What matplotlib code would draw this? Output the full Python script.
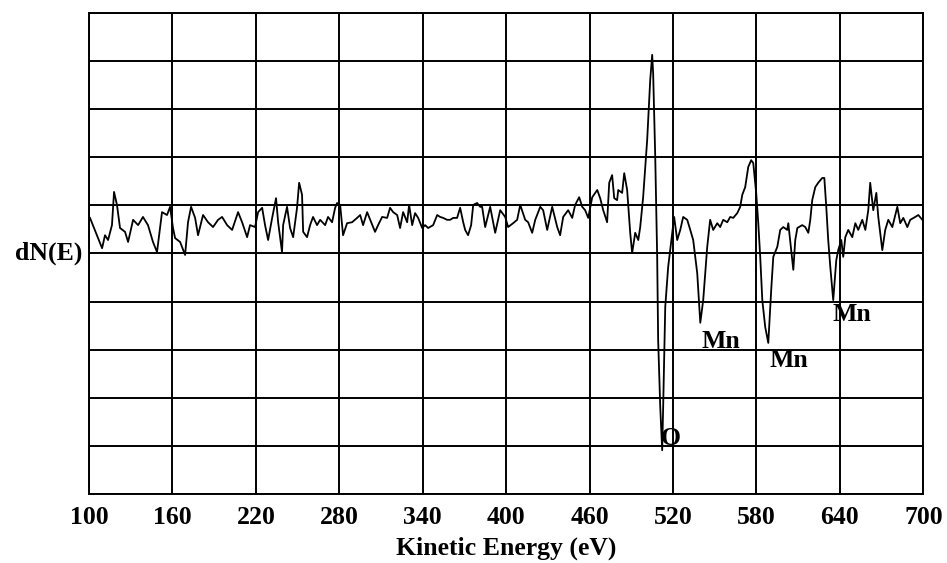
"""Auger spectrum: dN(E) vs kinetic energy, with O and Mn peaks marked."""

import matplotlib

matplotlib.use("Agg")
import matplotlib.pyplot as plt
from matplotlib.transforms import blended_transform_factory

# trace (energy in eV, intensity in grid units 0..10)
energy = [
    100.7, 109.4, 111.5, 113.7, 116.5, 118.0, 120.1, 122.3, 125.9, 128.1,
    131.7, 135.3, 138.8, 142.4, 146.0, 148.9, 152.5, 156.1, 158.3, 160.4,
    161.9, 165.5, 169.1, 171.2, 173.4, 176.3, 178.4, 182.0, 185.6, 189.2,
    192.8, 195.7, 199.3, 202.9, 207.2, 210.1, 213.7, 215.8, 219.4, 221.6,
    224.5, 226.6, 228.8, 231.7, 234.5, 236.0, 238.8,
    239.6, 242.4, 244.6, 246.8, 249.6, 251.1, 253.2, 254.0, 256.8, 259.0,
    261.1, 264.0, 266.2, 269.8, 271.9, 274.8, 277.0, 278.4, 280.6, 282.7,
    285.6, 289.2, 292.8, 295.0, 297.1, 300.0, 302.9, 305.7, 307.9, 310.8,
    314.4, 316.5, 318.7, 321.6, 323.7, 325.9, 328.8, 330.2, 332.4, 334.5,
    336.7, 339.6, 341.7, 343.9, 347.5, 350.4, 352.5, 354.7, 357.5, 359.7,
    361.9, 364.7, 366.9, 369.1, 370.5, 372.6, 374.8, 376.3, 379.1, 381.3,
    382.7, 384.9, 388.5, 392.1, 395.7, 399.3, 401.4, 405.0, 407.9, 410.1,
    413.7, 415.8, 418.7, 420.9, 424.5, 426.6, 429.5, 433.1, 436.7, 438.8,
    441.0, 444.6, 447.5, 449.6, 452.5, 454.7, 456.8, 459.0, 461.9, 465.5,
    467.6, 469.8, 472.6, 474.1, 476.2, 477.7, 479.8, 480.6, 483.4, 484.9,
    487.0, 489.2, 490.6, 492.8, 495.0, 496.4,
    498.5, 501.4, 503.6, 505.0, 505.7, 507.2, 508.6, 509.3, 510.8, 512.2,
    512.9, 514.4, 516.5, 519.4, 520.8, 523.0, 525.2, 527.3, 530.2, 532.4,
    534.5, 537.4, 539.6, 541.7, 544.6, 546.7,
    548.9, 551.8, 553.9, 556.1, 559.0, 561.1, 563.3, 566.2, 568.3, 569.8,
    571.9, 574.1, 576.2, 577.7, 579.8, 581.3, 582.7, 584.2, 586.3, 588.5,
    590.6, 592.1, 595.0, 597.1, 599.3, 602.1, 602.9, 605.0, 606.5, 607.9,
    609.4, 612.9, 615.1, 617.3, 618.7, 620.1, 622.3, 624.4, 627.3, 628.8,
    630.2, 631.6, 633.1, 635.2,
    637.4, 638.8, 641.0, 642.4, 643.9, 646.0, 648.9, 651.1, 653.2, 656.1,
    658.3, 660.4, 661.8, 664.0, 666.2, 667.6, 670.5, 672.6, 674.8, 677.7,
    679.8, 681.3, 683.4, 685.6, 688.5, 690.6, 694.2, 696.4, 699.3,
]
dn = [
    5.74, 5.11, 5.38, 5.28, 5.59, 6.28, 6.01, 5.53, 5.45, 5.24,
    5.70, 5.59, 5.76, 5.59, 5.24, 5.03, 5.86, 5.80, 5.97, 5.53,
    5.32, 5.24, 4.97, 5.65, 5.97, 5.74, 5.38, 5.80, 5.65, 5.55,
    5.70, 5.76, 5.59, 5.49, 5.86, 5.65, 5.34, 5.59, 5.55, 5.86,
    5.95, 5.59, 5.28, 5.74, 6.15, 5.65, 5.03,
    5.59, 5.97, 5.53, 5.34, 5.95, 6.47, 6.22, 5.45, 5.34, 5.59,
    5.76, 5.59, 5.70, 5.59, 5.76, 5.65, 5.95, 6.05, 6.01, 5.38,
    5.63, 5.65, 5.74, 5.80, 5.59, 5.86, 5.65, 5.45, 5.59, 5.76,
    5.74, 5.95, 5.86, 5.80, 5.53, 5.86, 5.65, 6.01, 5.59, 5.84,
    5.74, 5.53, 5.59, 5.53, 5.59, 5.80, 5.76, 5.74, 5.70, 5.70,
    5.74, 5.74, 5.95, 5.65, 5.49, 5.38, 5.59, 6.01, 6.05, 5.97,
    5.97, 5.55, 5.97, 5.43, 5.90, 5.76, 5.55, 5.63, 5.70, 6.01,
    5.70, 5.65, 5.43, 5.70, 5.97, 5.90, 5.49, 5.97, 5.55, 5.38,
    5.76, 5.90, 5.74, 6.01, 6.17, 5.97, 5.90, 5.74, 6.17, 6.32,
    6.15, 5.90, 5.65, 6.47, 6.63, 6.15, 6.11, 6.32, 6.26, 6.67,
    6.32, 5.43, 5.01, 5.43, 5.28, 5.55,
    6.17, 7.36, 8.61, 9.13, 8.75, 7.01, 4.93, 3.20, 1.81, 0.91,
    1.81, 3.89, 4.72, 5.43, 5.76, 5.28, 5.49, 5.76, 5.70, 5.49,
    5.28, 4.59, 3.56, 4.03, 5.14, 5.70,
    5.49, 5.63, 5.55, 5.70, 5.65, 5.76, 5.74, 5.84, 5.97, 6.22,
    6.38, 6.80, 6.94, 6.88, 6.26, 5.63, 4.93, 4.03, 3.47, 3.14,
    4.24, 4.93, 5.14, 5.49, 5.55, 5.49, 5.63, 5.07, 4.66, 5.28,
    5.53, 5.59, 5.55, 5.43, 5.70, 6.11, 6.38, 6.47, 6.57, 6.57,
    5.97, 5.28, 4.72, 4.03,
    4.86, 5.07, 5.28, 4.93, 5.34, 5.49, 5.34, 5.63, 5.49, 5.70,
    5.49, 5.90, 6.47, 5.90, 6.26, 5.76, 5.07, 5.49, 5.70, 5.55,
    5.80, 5.97, 5.63, 5.74, 5.55, 5.70, 5.76, 5.80, 5.70,
]

x_ticks = [100, 160, 220, 280, 340, 400, 460, 520, 580, 640, 700]

peak_labels = ["O", "Mn", "Mn", "Mn"]
peak_x = [518.0, 554.7, 603.6, 648.9]
peak_y = [1.16, 3.16, 2.77, 3.74]

FONT = "Liberation Serif"

fig = plt.figure(figsize=(9.47, 5.63), dpi=100)
ax = fig.add_axes([0.094, 0.1226, 0.881, 0.8543])

ax.plot(energy, dn, color="black", lw=1.3)

ax.set_xlim(100, 700)
ax.set_ylim(0, 10)
ax.set_xticks(x_ticks)
ax.set_yticks(range(0, 11))
ax.set_yticklabels([])
ax.grid(True, color="black", lw=1.4)
ax.tick_params(length=0)
ax.tick_params(axis="x", pad=9)
for lab in ax.get_xticklabels():
    lab.set_fontfamily(FONT)
    lab.set_fontweight("bold")
    lab.set_fontsize(18.5)
for sp in ax.spines.values():
    sp.set_linewidth(1.4)

ax.set_xlabel("Kinetic Energy (eV)", fontfamily=FONT, fontweight="bold",
              fontsize=18.5, labelpad=5)

trans = blended_transform_factory(ax.transAxes, ax.transData)
ax.text(-0.008, 5, "dN(E)", transform=trans, ha="right", va="center",
        fontfamily=FONT, fontweight="bold", fontsize=18.5)

for lab, px, py in zip(peak_labels, peak_x, peak_y):
    ax.text(px, py, lab, ha="center", va="center",
            fontfamily=FONT, fontweight="bold", fontsize=18.5)

fig.savefig("out.png", dpi=100)
